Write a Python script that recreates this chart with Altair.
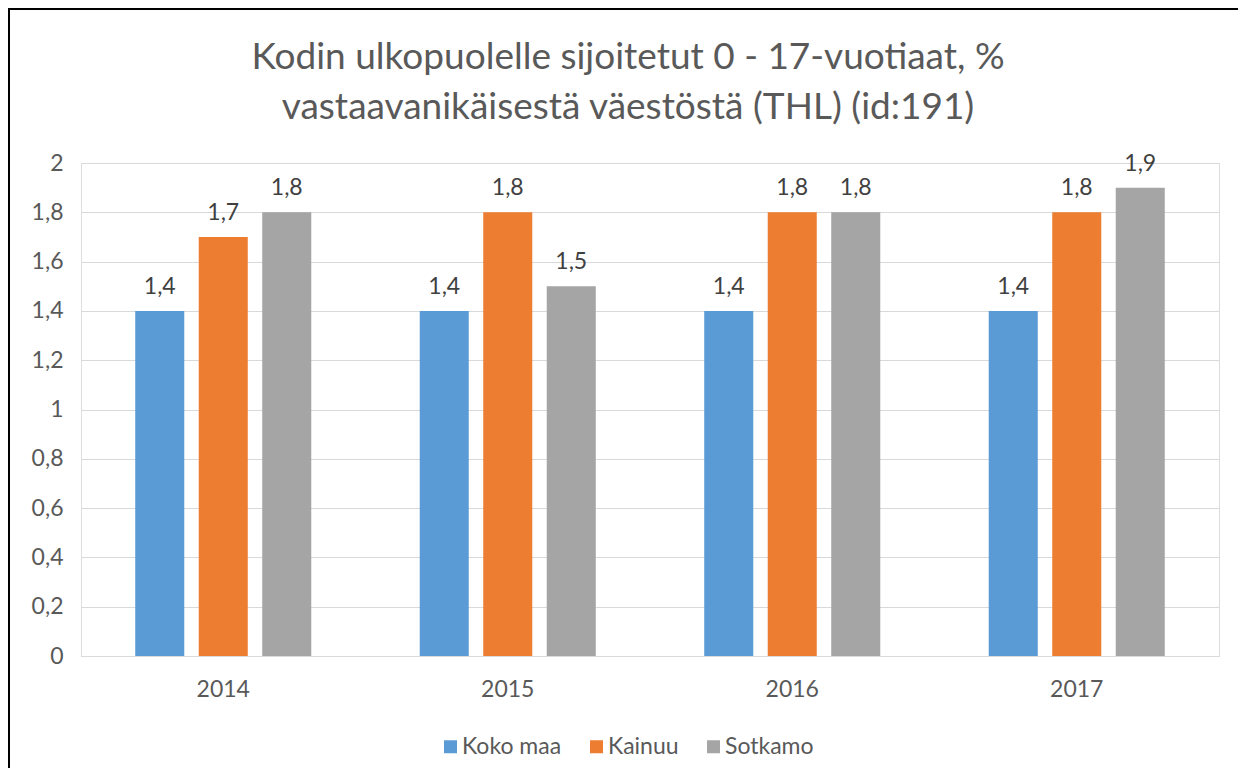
import altair as alt
import pandas as pd

years = ["2014", "2015", "2016", "2017"]
series = ["Koko maa", "Kainuu", "Sotkamo"]
koko_maa = [1.4, 1.4, 1.4, 1.4]
kainuu = [1.7, 1.8, 1.8, 1.8]
sotkamo = [1.8, 1.5, 1.8, 1.9]
colors = ["#5B9BD5", "#ED7D31", "#A5A5A5"]
y_ticks = [0, 0.2, 0.4, 0.6, 0.8, 1.0, 1.2, 1.4, 1.6, 1.8, 2.0]
title_lines = ["Kodin ulkopuolelle sijoitetut 0 - 17-vuotiaat, %",
               "vastaavanikäisestä väestöstä (THL) (id:191)"]

rows = []
for i, yr in enumerate(years):
    for s, vals in zip(series, [koko_maa, kainuu, sotkamo]):
        rows.append({"year": yr, "series": s, "value": vals[i],
                     "label": f"{vals[i]:.1f}".replace(".", ",")})
df = pd.DataFrame(rows)

FONT = "Lato"
GRAY = "#595959"
FS = 23

base = alt.Chart(df).encode(
    x=alt.X("year:N", sort=years, title=None,
            scale=alt.Scale(paddingInner=0, paddingOuter=0),
            axis=alt.Axis(labelAngle=0, ticks=False, domain=True, domainColor="#D9D9D9",
                          grid=False, labelFontSize=FS, labelColor=GRAY, labelPadding=22,
                          labelFont=FONT)),
    xOffset=alt.XOffset("series:N", sort=series,
                        scale=alt.Scale(paddingInner=0.228, paddingOuter=0.854)),
)

bars = base.mark_bar().encode(
    y=alt.Y("value:Q", title=None, scale=alt.Scale(domain=[0, 2]),
            axis=alt.Axis(values=y_ticks, domain=False, ticks=False, gridColor="#D9D9D9",
                          gridWidth=1, labelFontSize=FS, labelColor=GRAY, labelFont=FONT,
                          labelPadding=18,
                          labelExpr="replace(format(datum.value, '.1~f'), '.', ',')")),
    color=alt.Color("series:N", sort=series,
                    scale=alt.Scale(domain=series, range=colors),
                    legend=alt.Legend(title=None, orient="none", direction="horizontal",
                                      legendX=358, legendY=572, symbolType="square",
                                      symbolSize=169, symbolStrokeWidth=0,
                                      labelFontSize=FS, labelColor=GRAY, labelFont=FONT,
                                      columnPadding=23, labelOffset=0)),
)

text = base.mark_text(baseline="bottom", dy=-12, fontSize=FS, color="#404040", font=FONT).encode(
    y=alt.Y("value:Q"), text="label:N")

border_top = alt.Chart(df).mark_rule(color="#000000", strokeWidth=2).encode(
    x=alt.value(-73), x2=alt.value(1160), y=alt.value(-154))
border_left = alt.Chart(df).mark_rule(color="#000000", strokeWidth=2).encode(
    x=alt.value(-72), y=alt.value(-155), y2=alt.value(620))

chart = alt.layer(bars, text, border_top, border_left).properties(
    width=1138, height=493,
    title=alt.TitleParams(text=title_lines, fontSize=37, font=FONT, color=GRAY,
                          fontWeight="normal", anchor="middle", dx=-22, offset=-120,
                          lineHeight=50),
    autosize=alt.AutoSizeParams(type="none"),
    padding={"left": 73, "top": 155, "right": 19, "bottom": 112},
).configure_view(stroke=None).configure(background="white")

chart.save("out.html", embed_options={"renderer": "svg", "actions": False})
